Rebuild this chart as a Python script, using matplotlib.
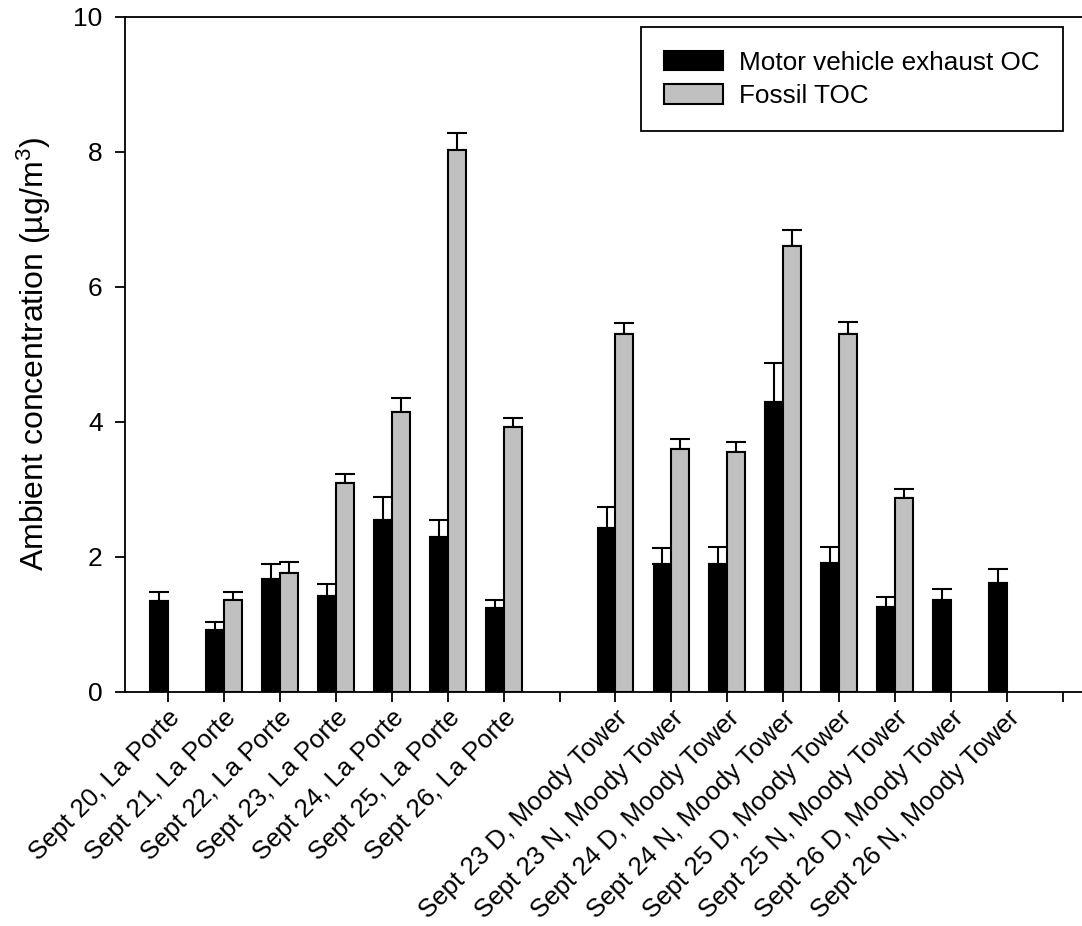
import numpy as np
import matplotlib
matplotlib.use("Agg")
import matplotlib.pyplot as plt

plt.rcParams['font.family'] = ['Liberation Sans', 'DejaVu Sans']
plt.rcParams['mathtext.fontset'] = 'custom'
plt.rcParams['mathtext.rm'] = 'Liberation Sans'
plt.rcParams['mathtext.it'] = 'Liberation Sans'

# categories (blank slots are gaps on the axis)
labels = ["Sept 20, La Porte", "Sept 21, La Porte", "Sept 22, La Porte", "Sept 23, La Porte",
          "Sept 24, La Porte", "Sept 25, La Porte", "Sept 26, La Porte", "",
          "Sept 23 D, Moody Tower", "Sept 23 N, Moody Tower", "Sept 24 D, Moody Tower",
          "Sept 24 N, Moody Tower", "Sept 25 D, Moody Tower", "Sept 25 N, Moody Tower",
          "Sept 26 D, Moody Tower", "Sept 26 N, Moody Tower", ""]

nan = np.nan
mv_oc = [1.35, 0.91, 1.67, 1.42, 2.55, 2.30, 1.24, nan,
         2.42, 1.89, 1.90, 4.30, 1.91, 1.25, 1.36, 1.61, nan]
mv_err = [0.13, 0.13, 0.22, 0.18, 0.34, 0.24, 0.12, nan,
          0.32, 0.24, 0.25, 0.57, 0.23, 0.16, 0.16, 0.21, nan]
fossil_toc = [nan, 1.36, 1.76, 3.09, 4.14, 8.03, 3.92, nan,
              5.30, 3.59, 3.56, 6.60, 5.30, 2.87, nan, nan, nan]
fossil_err = [nan, 0.12, 0.16, 0.13, 0.21, 0.25, 0.13, nan,
              0.17, 0.15, 0.14, 0.24, 0.18, 0.13, nan, nan, nan]

x = np.arange(len(labels))
w = 0.32
fs = 19

fig = plt.figure(figsize=(10.82, 9.26), dpi=100)
ax = fig.add_axes([0.1155, 0.253, 0.8845, 0.7287])

ax.bar(x - w / 2, mv_oc, w, color='black', edgecolor='black', linewidth=1.5,
       label='Motor vehicle exhaust OC', zorder=2)
ax.bar(x + w / 2, fossil_toc, w, color='#c0c0c0', edgecolor='black', linewidth=1.5,
       label='Fossil TOC', zorder=2)
ax.errorbar(x - w / 2, mv_oc, yerr=[np.zeros(len(x)), mv_err], fmt='none',
            ecolor='black', elinewidth=1.5, capsize=7.5, capthick=1.5, zorder=1)
ax.errorbar(x + w / 2, fossil_toc, yerr=[np.zeros(len(x)), fossil_err], fmt='none',
            ecolor='black', elinewidth=1.5, capsize=7.5, capthick=1.5, zorder=1)

ax.set_xlim(-0.769, 16.34)
ax.set_ylim(0, 10)
ax.set_yticks(np.arange(0, 11, 2))
ax.set_xticks(x)
ax.set_xticklabels(labels, rotation=45, ha='right', rotation_mode='anchor', fontsize=18.6)
ax.tick_params(axis='both', direction='out', length=7.5, width=1.3)
ax.tick_params(axis='y', pad=8.5, labelsize=fs)
ax.tick_params(axis='x', pad=2.5)
ax.spines['right'].set_visible(False)
for s in ['left', 'top', 'bottom']:
    ax.spines[s].set_linewidth(1.3)

ax.set_ylabel('Ambient concentration (µg/m$^3$)', fontsize=23, labelpad=15)

leg = ax.legend(loc='upper right', bbox_to_anchor=(0.980, 0.985), fontsize=18.8,
                fancybox=False, framealpha=1, edgecolor='black', borderpad=0.9,
                handlelength=2.25, handleheight=0.76, handletextpad=0.6,
                labelspacing=0.36, borderaxespad=0)
leg.get_frame().set_linewidth(1.3)

fig.savefig('out.png', dpi=100)
